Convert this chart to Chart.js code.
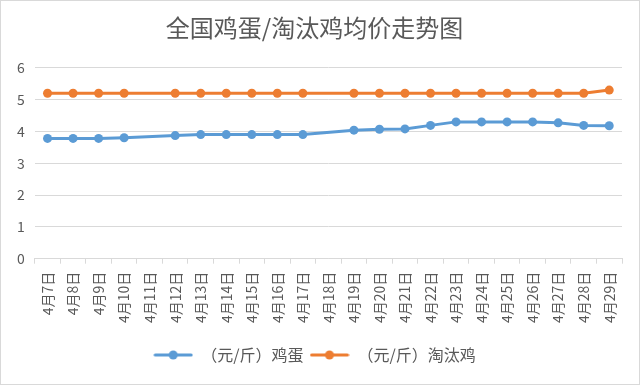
<!DOCTYPE html>
<html>
<head>
<meta charset="utf-8">
<script src="https://cdn.jsdelivr.net/npm/chart.js@4"></script>
<style>
  html, body { margin: 0; padding: 0; background: #fff; }
  #wrap { width: 640px; height: 385px; box-sizing: border-box; border: 1px solid #d9d9d9; }
</style>
</head>
<body>
<div id="wrap"><canvas id="c" width="638" height="383"></canvas></div>
<script>
const days = ['4月7日', '4月8日', '4月9日', '4月10日', '4月11日', '4月12日', '4月13日', '4月14日',
  '4月15日', '4月16日', '4月17日', '4月18日', '4月19日', '4月20日', '4月21日', '4月22日',
  '4月23日', '4月24日', '4月25日', '4月26日', '4月27日', '4月28日', '4月29日'];
const eggPrice = [3.78, 3.78, 3.78, 3.8, null, 3.87, 3.9, 3.9, 3.9, 3.9, 3.9, null,
  4.04, 4.07, 4.08, 4.19, 4.3, 4.3, 4.3, 4.3, 4.27, 4.19, 4.18];
const henPrice = [5.2, 5.2, 5.2, 5.2, null, 5.2, 5.2, 5.2, 5.2, 5.2, 5.2, null,
  5.2, 5.2, 5.2, 5.2, 5.2, 5.2, 5.2, 5.2, 5.2, 5.2, 5.3];
const seriesNames = ['（元/斤）鸡蛋', '（元/斤）淘汰鸡'];

const FONT = '"Noto Sans CJK SC", "Noto Sans", sans-serif';
const TEXT = '#595959';
const GRID = '#d9d9d9';

// little line + dot image for the legend
function legendIcon(color) {
  const cv = document.createElement('canvas');
  cv.width = 40; cv.height = 12;
  const g = cv.getContext('2d');
  g.strokeStyle = color; g.lineWidth = 3; g.lineCap = 'round';
  g.beginPath(); g.moveTo(2, 6); g.lineTo(38, 6); g.stroke();
  g.fillStyle = color;
  g.beginPath(); g.arc(20, 6, 4.5, 0, Math.PI * 2); g.fill();
  return cv;
}

const colors = ['#5b9bd5', '#ed7d31'];

new Chart(document.getElementById('c'), {
  type: 'line',
  data: {
    labels: days,
    datasets: [eggPrice, henPrice].map((d, i) => ({
      label: seriesNames[i],
      data: d,
      borderColor: colors[i],
      backgroundColor: colors[i],
      borderWidth: 3,
      pointRadius: 4.5,
      pointHoverRadius: 4.5,
      pointBorderWidth: 0,
      spanGaps: true,
      tension: 0,
    })),
  },
  options: {
    responsive: false,
    animation: false,
    layout: { padding: { left: 6, right: 17, top: 4, bottom: 11 } },
    plugins: {
      title: {
        display: true,
        text: '全国鸡蛋/淘汰鸡均价走势图',
        color: TEXT,
        font: { family: FONT, size: 24, weight: 'normal' },
        padding: { top: 8, bottom: 26 },
      },
      legend: {
        position: 'bottom',
        labels: {
          color: TEXT,
          font: { family: FONT, size: 16 },
          usePointStyle: true,
          pointStyleWidth: 40,
          padding: 6,
          generateLabels: chart => chart.data.datasets.map((ds, i) => ({
            text: ds.label,
            pointStyle: legendIcon(colors[i]),
            fontColor: TEXT,
            datasetIndex: i,
            lineWidth: 0,
          })),
        },
      },
      tooltip: { enabled: false },
    },
    scales: {
      x: {
        offset: true,
        grid: { drawOnChartArea: false, drawTicks: true, tickLength: 5, color: GRID, offset: true },
        border: { color: GRID },
        ticks: {
          color: TEXT,
          font: { family: FONT, size: 14 },
          minRotation: 90,
          maxRotation: 90,
          autoSkip: false,
          padding: 8,
        },
        afterFit: s => { s.height += 10; },
      },
      y: {
        min: 0,
        max: 6,
        ticks: { stepSize: 1, color: TEXT, font: { family: FONT, size: 14 }, padding: 10 },
        grid: { color: GRID, drawTicks: false },
        border: { display: false },
      },
    },
  },
});
</script>
</body>
</html>
